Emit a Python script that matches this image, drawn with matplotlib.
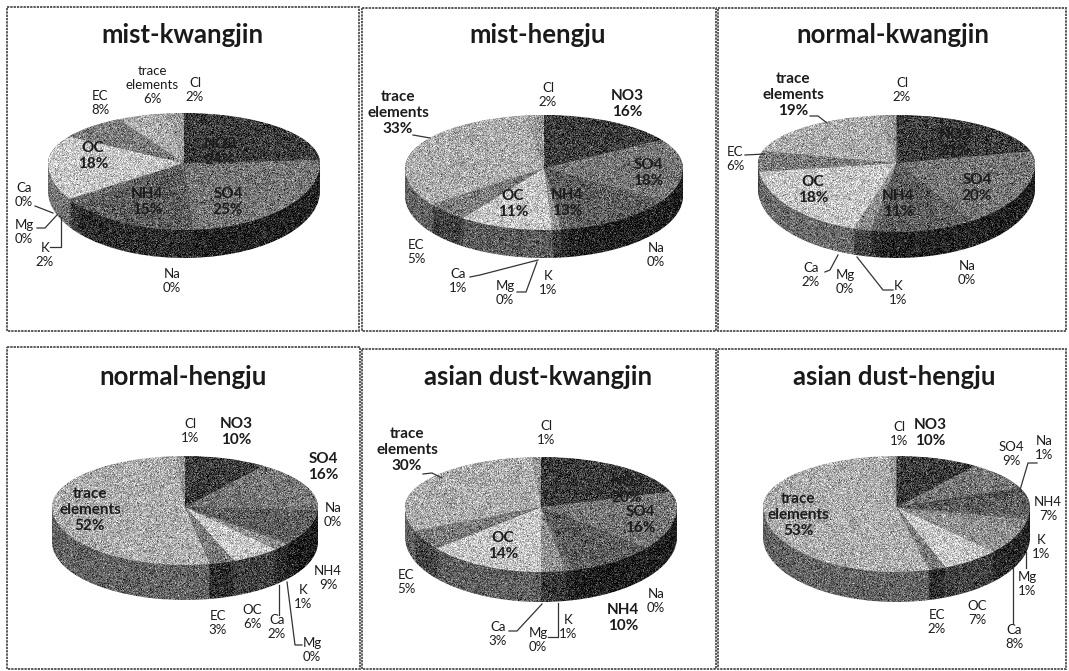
import matplotlib
matplotlib.use("Agg")
import numpy as np
import matplotlib.pyplot as plt
from matplotlib.colors import to_rgb
from matplotlib.patches import Rectangle

W, H = 1069, 671

categories = ["NO3", "SO4", "Na", "NH4", "K", "Mg", "Ca", "OC", "EC", "trace\nelements", "Cl"]
mist_kwangjin = [24, 25, 0, 15, 2, 0, 0, 18, 8, 6, 2]
mist_hengju = [16, 18, 0, 13, 1, 0, 1, 11, 5, 33, 2]
normal_kwangjin = [21, 20, 0, 11, 1, 0, 2, 18, 6, 19, 2]
normal_hengju = [10, 16, 0, 9, 1, 0, 2, 6, 3, 52, 1]
dust_kwangjin = [20, 16, 0, 10, 1, 0, 3, 14, 5, 30, 1]
dust_hengju = [10, 9, 1, 7, 1, 1, 8, 7, 2, 53, 1]
titles = ["mist-kwangjin", "mist-hengju", "normal-kwangjin",
          "normal-hengju", "asian dust-kwangjin", "asian dust-hengju"]
series = [mist_kwangjin, mist_hengju, normal_kwangjin,
          normal_hengju, dust_kwangjin, dust_hengju]

colors = ["#3c3c3c", "#767676", "#505050", "#5e5e5e", "#6a6a6a", "#8a8a8a",
          "#909090", "#c6c6c6", "#7c7c7c", "#adadad", "#9a9a9a"]

# left, right, apex x, top, apex y, front edge, bottom of the side (pixels)
pies = [(48, 320, 183, 113, 163, 230, 258),
        (405, 683, 538, 115, 168, 230, 258),
        (758, 1035, 893, 115, 163, 232, 258),
        (52, 318, 183, 456, 507, 565, 600),
        (405, 677, 540, 457, 507, 572, 602),
        (763, 1030, 895, 456, 507, 572, 602)]
frames = [(7, 7, 359, 331), (362, 8, 716, 331), (718, 8, 1066, 331),
          (7, 347, 360, 669), (362, 349, 716, 669), (718, 349, 1066, 669)]
title_pos = [(182, 35), (538, 35), (893, 35), (183, 377), (538, 377), (894, 377)]

# label centre per category index, pixels; same order as categories
label_pos = [
    [(220, 152), (228, 202), (172, 281), (147, 202), (45, 255), (24, 232), (24, 195),
     (93, 156), (100, 103), (152, 85), (195, 90)],
    [(627, 104), (648, 173), (656, 255), (567, 203), (548, 283), (505, 293), (458, 281),
     (513, 204), (416, 252), (398, 113), (548, 95)],
    [(955, 143), (977, 188), (967, 273), (898, 204), (898, 293), (845, 282), (811, 275),
     (813, 190), (735, 159), (793, 95), (902, 90)],
    [(236, 432), (323, 467), (333, 515), (328, 578), (303, 597), (312, 650), (277, 627),
     (252, 617), (218, 623), (90, 510), (190, 431)],
    [(627, 490), (640, 520), (656, 601), (623, 618), (568, 627), (538, 640), (498, 634),
     (503, 546), (406, 582), (407, 450), (546, 433)],
    [(930, 433), (1011, 454), (1044, 448), (1048, 509), (1041, 547), (1027, 584), (1014, 637),
     (977, 613), (937, 622), (798, 515), (899, 434)],
]
# big bold labels per panel, category index
bold = [{0, 1, 3, 7}, {0, 1, 3, 7, 9}, {0, 1, 3, 7, 9},
        {0, 1, 9}, {0, 1, 3, 7, 9}, {0, 9}]

leaders = [
    [[(35, 206), (53, 213)], [(37, 228), (45, 228), (57, 215)], [(50, 247), (61, 247), (61, 217)]],
    [[(413, 135), (430, 138)], [(470, 277), (480, 275), (538, 260)], [(517, 292), (526, 292), (537, 262)]],
    [[(810, 116), (818, 116), (827, 123)], [(745, 155), (765, 154)], [(825, 272), (830, 270), (838, 255)],
     [(893, 290), (883, 290), (857, 257)]],
    [[(279, 585), (279, 615)], [(287, 582), (295, 645), (302, 645)]],
    [[(423, 474), (432, 473), (442, 478)], [(509, 631), (517, 631), (542, 604)], [(548, 637), (558, 637), (558, 603)]],
    [[(1037, 463), (1028, 463), (1020, 490)], [(1026, 552), (1026, 568)], [(1013, 568), (1013, 623)]],
]

plt.rcParams['font.family'] = ['Lato', 'DejaVu Sans']

fig = plt.figure(figsize=(W / 100, H / 100), dpi=100, facecolor="white")
grain = np.random.default_rng(3)


def dither(img, dpi):
    # scanned print look, only a texture on the fill
    out = img.copy()
    noise = grain.normal(0, 0.13, img.shape[:2])
    for c in range(3):
        out[..., c] = np.clip(img[..., c] + noise, 0, 1)
    return out, 0, 0


def draw_pie(values, geom):
    left, right, apex_x, top, apex_y, front, bottom = geom
    # perspective: back half of the ellipse is flatter than the front half
    k = (apex_y - top) / (front - apex_y)
    ax = fig.add_axes([left / W, 1 - front / H, (right - left) / W, (front - top) / H])
    depth = (bottom - front) / (front - apex_y)
    # side is darker towards the right
    mids = (np.cumsum(values) - np.array(values) / 2) / 100 * 2 * np.pi
    sides = [tuple(c * (0.42 - 0.16 * np.sin(m)) for c in to_rgb(col)) for col, m in zip(colors, mids)]
    # the side is a stack of darker copies of the pie
    for d in np.linspace(depth, 0.01, 14):
        ax.pie(values, colors=sides, startangle=90, counterclock=False, center=(0, -d),
               wedgeprops=dict(linewidth=0))
    ax.pie(values, colors=colors, startangle=90, counterclock=False,
           wedgeprops=dict(linewidth=0))
    for p in ax.patches:
        p.set_agg_filter(dither)
    ax.set_aspect('auto')
    ax.set_xlim(-1, 1)
    ax.set_ylim(-1, 1)
    ax.set_yscale('function', functions=(
        lambda y: np.where(y > 0, y * k, y),
        lambda y: np.where(y > 0, y / k, y)))
    ax.set_ylim(-1, 1)
    ax.axis('off')


for vals, geom in zip(series, pies):
    draw_pie(vals, geom)

# pixel overlay for frames, texts and leader lines
ov = fig.add_axes([0, 0, 1, 1], zorder=5)
ov.set_xlim(0, W)
ov.set_ylim(H, 0)
ov.axis('off')
ov.patch.set_alpha(0)

for i, (x0, y0, x1, y1) in enumerate(frames):
    ov.add_patch(Rectangle((x0, y0), x1 - x0, y1 - y0, fill=False, edgecolor="#5a5a5a",
                           linewidth=1.4, linestyle=(0, (1.2, 0.5))))
    ov.text(title_pos[i][0], title_pos[i][1], titles[i], ha='center', va='center',
            fontsize=18.5, fontweight='bold', color="#1a1a1a")
    for j, name in enumerate(categories):
        x, y = label_pos[i][j]
        big = j in bold[i]
        ov.text(x, y, f"{name}\n{series[i][j]}%", ha='center', va='center', linespacing=1.2,
                fontsize=11 if big else 9.5, fontweight='bold' if big else 'normal', color="#1c1c1c")
    for seg in leaders[i]:
        xs, ys = zip(*seg)
        ov.plot(xs, ys, color="#333333", linewidth=0.9)

fig.savefig("out.png", dpi=100)
